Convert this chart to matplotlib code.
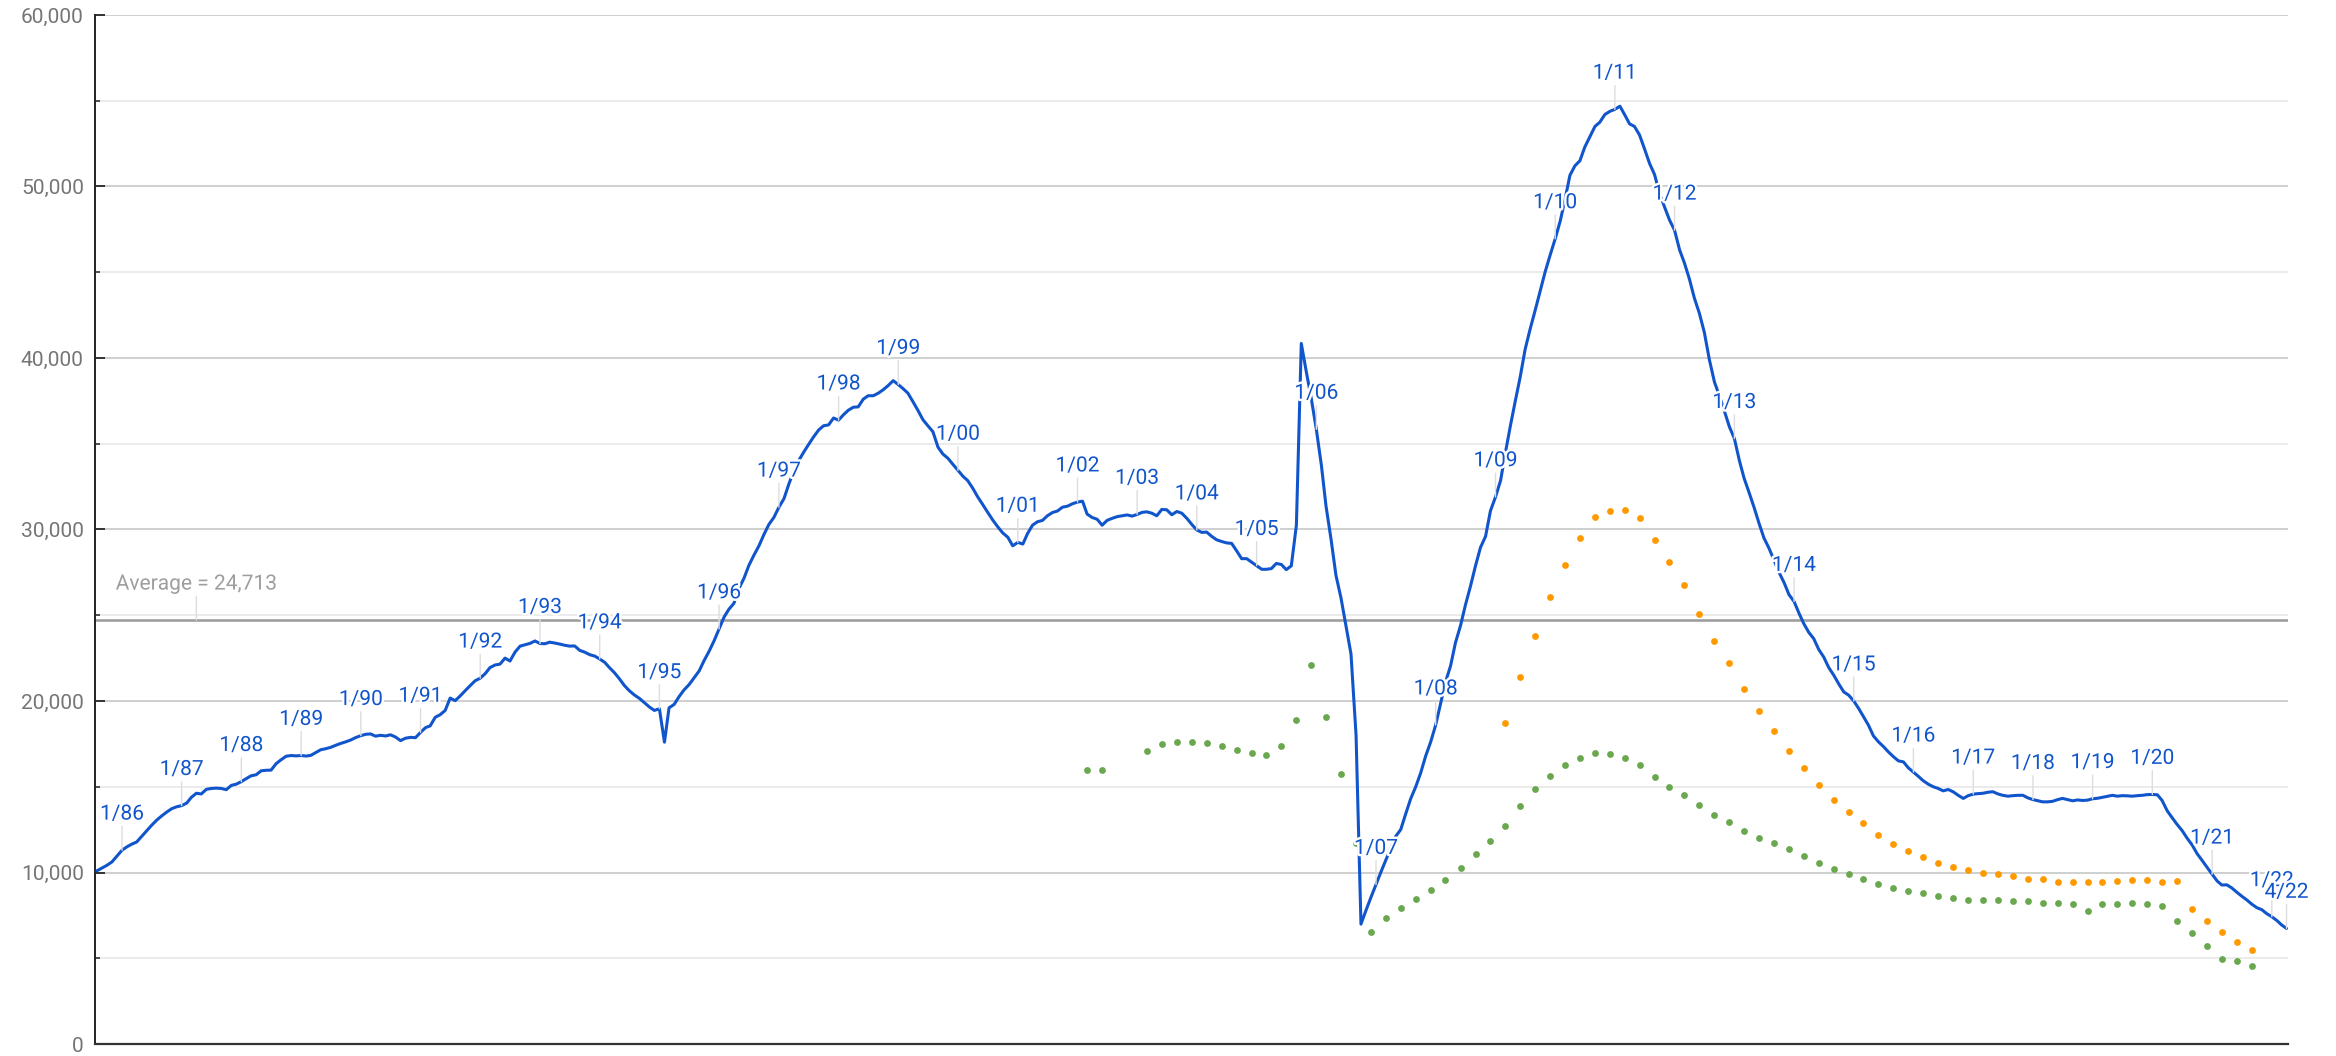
import numpy as np
import pandas as pd
import matplotlib
matplotlib.use("Agg")
import matplotlib.pyplot as plt
import matplotlib.patheffects as pe
from matplotlib.ticker import MultipleLocator, FuncFormatter

# ---------------- data ----------------
blue_start = "1985-08-01"
blue_values = [
    10100, 10260, 10420, 10620, 10950,                                                   # 1985 Aug-Dec
    11300, 11500, 11650, 11780, 12100, 12430, 12750, 13050, 13300, 13520, 13720, 13830,  # 1986
    13900, 14050, 14380, 14620, 14580, 14850, 14900, 14920, 14900, 14830, 15080, 15150,  # 1987
    15300, 15480, 15640, 15700, 15930, 15960, 15970, 16350, 16580, 16780, 16820, 16800,  # 1988
    16820, 16790, 16830, 17000, 17160, 17220, 17300, 17420, 17530, 17620, 17730, 17870,  # 1989
    17980, 18060, 18080, 17950, 18000, 17960, 18030, 17900, 17690, 17830, 17880, 17860,  # 1990
    18170, 18450, 18550, 19050, 19200, 19450, 20170, 20020, 20300, 20600, 20900, 21180,  # 1991
    21330, 21600, 21950, 22100, 22150, 22500, 22330, 22850, 23200, 23280, 23360, 23500,  # 1992
    23350, 23340, 23430, 23380, 23320, 23250, 23200, 23210, 22950, 22850, 22700, 22620,  # 1993
    22450, 22250, 21950, 21650, 21300, 20900, 20600, 20350, 20150, 19900, 19650, 19450,  # 1994
    19550, 17600, 19600, 19800, 20250, 20650, 20950, 21350, 21750, 22350, 22900, 23500,  # 1995
    24200, 24900, 25350, 25700, 26550, 27150, 27900, 28500, 29050, 29700, 30300, 30700,  # 1996
    31300, 31800, 32600, 33400, 34000, 34500, 34950, 35400, 35800, 36050, 36100, 36500,  # 1997
    36380, 36700, 36950, 37130, 37150, 37600, 37800, 37800, 37950, 38150, 38400, 38680,  # 1998
    38450, 38200, 37950, 37450, 36950, 36400, 36050, 35700, 34800, 34400, 34150, 33800,  # 1999
    33450, 33100, 32850, 32400, 31900, 31450, 31000, 30550, 30150, 29800, 29550, 29050,  # 2000
    29250, 29150, 29750, 30250, 30450, 30530, 30800, 30990, 31080, 31300, 31360, 31500,  # 2001
    31600, 31650, 30900, 30700, 30600, 30250, 30530, 30650, 30750, 30800, 30850, 30780,  # 2002
    30880, 31000, 31030, 30950, 30800, 31170, 31150, 30860, 31050, 30950, 30650, 30300,  # 2003
    29970, 29830, 29850, 29600, 29400, 29300, 29220, 29190, 28750, 28300, 28300, 28100,  # 2004
    27900, 27680, 27680, 27720, 28020, 27960, 27660, 27880, 30250, 40850, 39180, 37640,  # 2005
    35840, 33740, 31380, 29430, 27330, 26000, 24400, 22740, 18000, 6990, 7800, 8550,     # 2006
    9300, 10050, 10700, 11400, 12100, 12500, 13400, 14300, 15000, 15800, 16800, 17600,   # 2007
    18600, 19900, 21100, 22050, 23400, 24400, 25600, 26700, 27900, 28950, 29600, 31090,  # 2008
    31900, 32860, 34400, 36000, 37450, 38900, 40500, 41700, 42800, 43900, 45040, 46000,  # 2009
    46950, 48000, 49200, 50650, 51200, 51500, 52300, 52900, 53500, 53750, 54200, 54380,  # 2010
    54500, 54680, 54200, 53650, 53500, 53000, 52200, 51350, 50690, 49600, 48800, 48050,  # 2011
    47450, 46300, 45550, 44600, 43500, 42600, 41500, 39900, 38600, 37800, 36900, 36000,  # 2012
    35300, 34000, 33000, 32150, 31300, 30350, 29500, 28900, 28200, 27500, 26900, 26200,  # 2013
    25800, 25100, 24520, 24000, 23640, 23000, 22570, 21950, 21500, 21000, 20530, 20340,  # 2014
    20000, 19550, 19100, 18590, 17970, 17620, 17350, 17030, 16750, 16510, 16450, 16100,  # 2015
    15850, 15600, 15350, 15150, 15000, 14900, 14760, 14840, 14700, 14500, 14320, 14480,  # 2016
    14570, 14600, 14620, 14680, 14710, 14580, 14500, 14450, 14480, 14500, 14500, 14350,  # 2017
    14250, 14180, 14120, 14120, 14150, 14250, 14320, 14250, 14180, 14230, 14200, 14220,  # 2018
    14300, 14330, 14380, 14440, 14500, 14450, 14480, 14470, 14450, 14480, 14500, 14540,  # 2019
    14550, 14530, 14200, 13600, 13200, 12800, 12450, 12000, 11600, 11100, 10700, 10300,  # 2020
    9900, 9500, 9270, 9280, 9100, 8850, 8620, 8400, 8150, 7950, 7830, 7600,              # 2021
    7420, 7200, 6950, 6740,                                                              # 2022 Jan-Apr
]

green_start = "2002-03-01"   # quarterly
green_values = [
    15960, 15960, None, None,
    17100, 17480, 17630, 17630, 17570, 17350, 17160, 16960, 16880, 17380,
    18910, 22090, 19050, 15740, 11730, 6510, 7340, 7930, 8470, 8990,
    9540, 10240, 11050, 11850, 12740, 13850, 14880, 15640, 16240, 16690,
    16940, 16900, 16690, 16240, 15560, 14960, 14490, 13910, 13360, 12940,
    12410, 12040, 11730, 11350, 10980, 10570, 10200, 9910, 9640, 9310,
    9090, 8920, 8800, 8650, 8530, 8370, 8370, 8370, 8330, 8330,
    8240, 8200, 8160, 7730, 8160, 8160, 8200, 8180, 8060, 7190,
    6450, 5730, 4970, 4860, 4550,
]

orange_start = "2009-03-01"  # quarterly
orange_values = [
    18700, 21380, 23780, 26040, 27920, 29510, 30710, 31090, 31160, 30670,
    29400, 28090, 26750, 25090, 23470, 22200, 20680, 19440, 18240, 17060,
    16080, 15080, 14220, 13540, 12880, 12160, 11640, 11250, 10920, 10570,
    10340, 10140, 9990, 9890, 9790, 9640, 9600, 9440, 9460, 9440,
    9440, 9500, 9560, 9560, 9420, 9520, 7850, 7170, 6510, 5930,
    5500,
]

average_value = 24713
average_label = "Average = 24,713"
average_label_date = "1987-04-01"

y_ticks = [0, 10000, 20000, 30000, 40000, 50000, 60000]

# ---------------- build ----------------
blue_dates = pd.date_range(blue_start, periods=len(blue_values), freq="MS")
green_dates = pd.date_range(green_start, periods=len(green_values), freq="3MS")
orange_dates = pd.date_range(orange_start, periods=len(orange_values), freq="3MS")
green_arr = np.array([np.nan if v is None else v for v in green_values], dtype=float)
orange_arr = np.array(orange_values, dtype=float)
blue_arr = np.array(blue_values, dtype=float)

BLUE = "#1155cc"
FONT = "Roboto"
FS = 15.1

W, H = 2336, 1056
fig = plt.figure(figsize=(W / 100, H / 100), dpi=100)
left, right, top, bottom = 95, 2288, 15, 1044
ax = fig.add_axes([left / W, 1 - bottom / H, (right - left) / W, (bottom - top) / H])

ax.set_ylim(0, 60000)
x0 = blue_dates[0] - pd.Timedelta(days=12)
x1 = blue_dates[-1] + pd.Timedelta(days=9)
ax.set_xlim(x0, x1)

# grid
ax.yaxis.set_major_locator(MultipleLocator(10000))
ax.yaxis.set_minor_locator(MultipleLocator(5000))
ax.set_yticks(y_ticks)
ax.grid(which="major", axis="y", color="#cccccc", lw=1.3, zorder=0)
ax.grid(which="minor", axis="y", color="#e8e8e8", lw=1.2, zorder=0)
ax.grid(which="major", axis="x", visible=False)
ax.set_axisbelow(True)
ax.yaxis.set_major_formatter(FuncFormatter(lambda v, p: f"{int(v):,}"))
ax.tick_params(axis="y", which="major", direction="in", length=7, width=1.4,
               color="#333333", labelsize=FS, labelcolor="#757575", pad=8)
ax.tick_params(axis="y", which="minor", direction="in", length=3.5, width=1.2,
               color="#333333")
ax.set_xticks([])
for lab in ax.get_yticklabels():
    lab.set_fontfamily(FONT)
for s in ("top", "right"):
    ax.spines[s].set_visible(False)
ax.spines["left"].set_color("#222222")
ax.spines["left"].set_linewidth(1.4)
ax.spines["bottom"].set_color("#333333")
ax.spines["bottom"].set_linewidth(1.6)

# average line
ax.axhline(average_value, color="#9e9e9e", lw=1.9, zorder=2)

# series
ax.plot(blue_dates, blue_arr, color=BLUE, lw=2.2, zorder=3,
        solid_joinstyle="round", solid_capstyle="round")
ax.scatter(green_dates, green_arr, s=24, color="#6aa84f", linewidths=0, zorder=4)
ax.scatter(orange_dates, orange_arr, s=24, color="#ff9900", linewidths=0, zorder=4)

halo = [pe.withStroke(linewidth=3.5, foreground="white")]

def label(x, y, text, color):
    ax.annotate(text, xy=(x, y), xytext=(0, 26), textcoords="offset points",
                ha="center", va="center", fontsize=FS, family=FONT, color=color,
                path_effects=halo, zorder=6, annotation_clip=False,
                arrowprops=dict(arrowstyle="-", color="#dddddd", lw=1.0,
                                shrinkA=0, shrinkB=0))

for i, d in enumerate(blue_dates):
    if d.month == 1 or i == len(blue_dates) - 1:
        label(d, blue_arr[i], f"{d.month}/{d.year % 100:02d}", BLUE)

label(pd.Timestamp(average_label_date), average_value, average_label, "#9e9e9e")

fig.savefig("out.png", dpi=100)
